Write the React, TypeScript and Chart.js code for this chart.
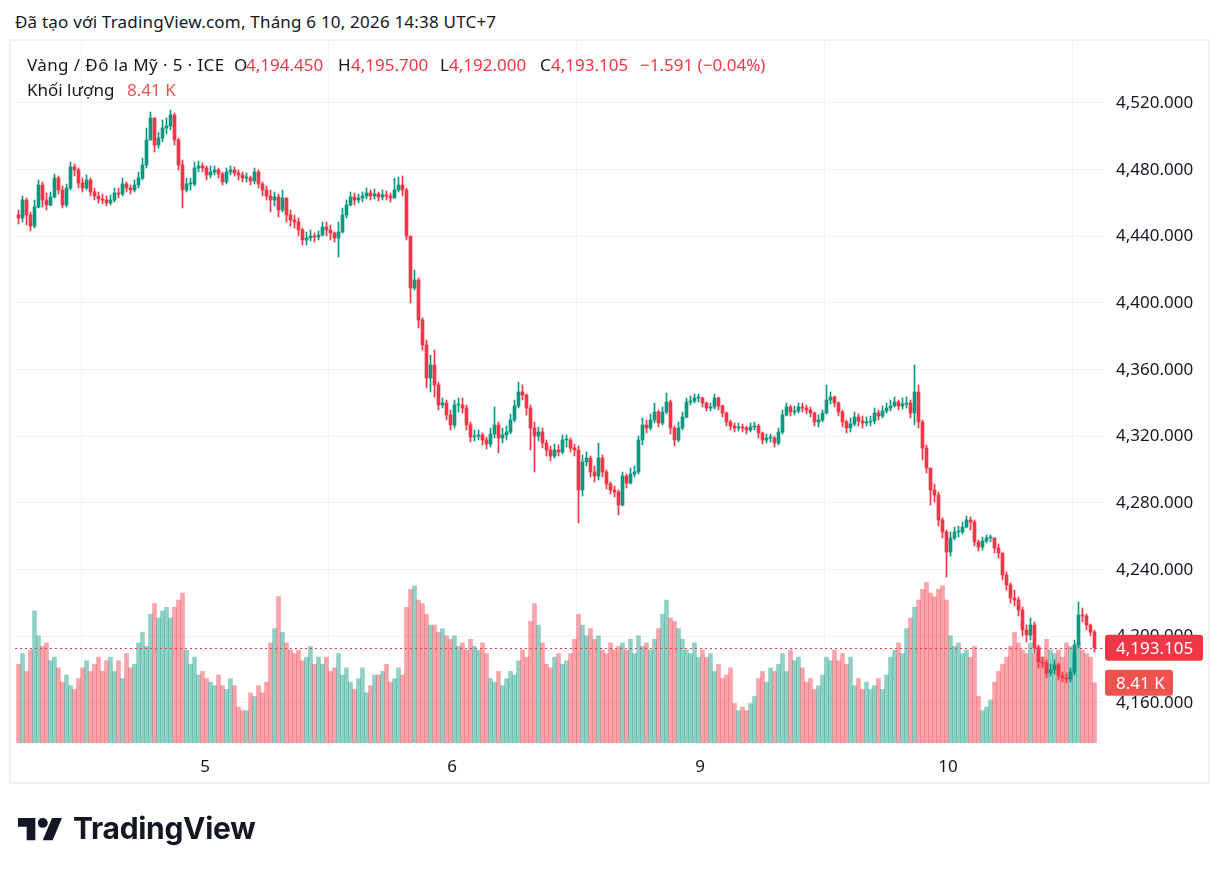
import React, { useEffect, useRef } from "react";
import { Chart, registerables } from "chart.js";

Chart.register(...registerables);

// ---------- data ----------
const titleText = "Đã tạo với TradingView.com, Tháng 6 10, 2026 14:38 UTC+7";
const symbolText = "Vàng / Đô la Mỹ · 5 · ICE";
const ohlcLetters = ["O", "H", "L", "C"];
const ohlcValues = [4194.45, 4195.7, 4192.0, 4193.105];
const changeValue = -1.591;
const changePct = -0.04;
const volumeTitle = "Khối lượng";

const firstOpen = 4453.0;

const closes = [
  4451.0, 4461.8, 4452.8, 4446.2, 4457.6, 4470.8, 4461.8, 4458.8, 4463.6, 4475.0,
  4467.8, 4458.8, 4469.0, 4481.6, 4479.8, 4472.0, 4469.0, 4473.8, 4466.6, 4464.2,
  4462.4, 4461.8, 4460.0, 4461.8, 4466.0, 4465.4, 4471.4, 4469.0, 4467.8, 4470.8,
  4475.0, 4482.8, 4497.8, 4511.0, 4494.8, 4499.0, 4505.0, 4506.2, 4512.8, 4497.8,
  4482.8, 4467.8, 4471.4, 4471.4, 4481.0, 4482.2, 4481.0, 4476.8, 4478.6, 4479.8,
  4477.4, 4472.6, 4478.6, 4479.8, 4478.0, 4476.8, 4475.0, 4475.0, 4473.2, 4478.6,
  4471.4, 4467.8, 4464.2, 4461.8, 4463.6, 4455.8, 4463.0, 4452.8, 4449.8, 4448.6,
  4443.8, 4437.8, 4439.0, 4440.2, 4439.6, 4440.8, 4445.6, 4443.8, 4442.0, 4439.0,
  4442.6, 4452.8, 4458.8, 4463.6, 4461.8, 4463.0, 4464.2, 4466.0, 4464.2, 4465.4,
  4463.6, 4464.8, 4464.2, 4463.0, 4467.8, 4470.8, 4467.8, 4440.2, 4409.0, 4413.8,
  4389.8, 4374.8, 4355.0, 4362.8, 4350.8, 4338.8, 4340.0, 4332.8, 4326.8, 4338.8,
  4338.8, 4337.0, 4326.8, 4319.6, 4320.2, 4320.8, 4317.8, 4315.4, 4321.4, 4326.8,
  4319.0, 4320.8, 4322.6, 4329.8, 4338.2, 4346.6, 4344.8, 4337.0, 4325.0, 4320.2,
  4322.6, 4316.0, 4311.8, 4308.2, 4311.8, 4310.6, 4317.8, 4317.8, 4313.0, 4311.8,
  4287.8, 4304.6, 4307.0, 4298.6, 4296.2, 4307.0, 4298.6, 4291.4, 4287.8, 4286.6,
  4278.8, 4296.2, 4292.0, 4297.4, 4298.6, 4317.8, 4326.8, 4325.0, 4329.8, 4334.6,
  4328.0, 4334.6, 4340.6, 4325.0, 4317.8, 4325.0, 4331.6, 4340.6, 4341.2, 4343.0,
  4343.0, 4340.0, 4337.0, 4337.6, 4343.0, 4338.2, 4334.0, 4328.6, 4326.2, 4325.0,
  4325.6, 4325.0, 4323.8, 4325.6, 4326.2, 4322.0, 4317.8, 4319.0, 4319.0, 4316.0,
  4322.6, 4332.8, 4337.6, 4334.6, 4335.2, 4337.6, 4337.0, 4335.8, 4334.0, 4328.6,
  4329.8, 4334.0, 4341.8, 4343.6, 4340.0, 4334.6, 4328.6, 4325.0, 4327.4, 4331.6,
  4329.2, 4328.0, 4328.6, 4329.2, 4334.0, 4332.2, 4335.2, 4337.0, 4338.2, 4340.6,
  4338.2, 4339.4, 4340.0, 4334.0, 4346.6, 4328.6, 4313.0, 4301.0, 4287.8, 4284.8,
  4269.8, 4262.6, 4250.6, 4259.0, 4262.6, 4262.6, 4265.6, 4269.8, 4268.6, 4256.6,
  4253.6, 4257.2, 4259.0, 4259.0, 4253.0, 4250.0, 4236.8, 4230.8, 4223.0, 4221.8,
  4215.8, 4203.8, 4200.8, 4206.8, 4193.0, 4184.6, 4184.0, 4178.0, 4179.8, 4182.8,
  4176.2, 4175.0, 4174.4, 4178.6, 4194.8, 4212.8, 4212.2, 4206.8, 4202.6, 4193.105,
];

const highs = [
  4455.8, 4464.2, 4463.0, 4454.6, 4461.8, 4473.8, 4472.6, 4466.0, 4466.6, 4477.4,
  4476.2, 4470.2, 4471.4, 4484.6, 4483.4, 4481.0, 4475.0, 4476.8, 4475.0, 4469.0,
  4466.6, 4465.4, 4464.2, 4464.8, 4469.0, 4469.0, 4475.0, 4472.6, 4470.8, 4473.8,
  4478.6, 4487.0, 4505.0, 4514.6, 4511.0, 4502.6, 4509.8, 4511.0, 4515.8, 4514.0,
  4499.0, 4485.8, 4475.0, 4475.0, 4484.6, 4485.2, 4484.0, 4482.2, 4482.2, 4482.2,
  4481.0, 4478.6, 4481.0, 4482.2, 4481.6, 4479.8, 4478.6, 4478.0, 4476.2, 4481.0,
  4479.8, 4472.6, 4470.2, 4467.8, 4466.6, 4465.4, 4467.8, 4463.0, 4455.8, 4452.8,
  4451.0, 4445.0, 4442.6, 4443.8, 4442.0, 4443.2, 4448.6, 4448.6, 4446.8, 4442.6,
  4448.6, 4457.0, 4461.8, 4466.6, 4466.0, 4465.4, 4466.6, 4469.0, 4467.8, 4468.4,
  4466.6, 4467.8, 4467.2, 4466.0, 4475.0, 4475.6, 4476.2, 4469.0, 4439.0, 4419.8,
  4415.0, 4391.0, 4377.8, 4368.8, 4371.8, 4352.6, 4343.0, 4341.8, 4335.8, 4341.8,
  4343.0, 4343.0, 4338.8, 4328.6, 4323.8, 4323.8, 4322.0, 4319.6, 4325.0, 4337.6,
  4328.6, 4325.0, 4326.2, 4333.4, 4341.8, 4352.6, 4350.8, 4345.4, 4338.8, 4328.6,
  4325.6, 4325.0, 4317.8, 4314.2, 4315.4, 4314.8, 4320.8, 4320.8, 4319.0, 4315.4,
  4314.2, 4308.8, 4310.6, 4308.2, 4302.2, 4316.0, 4308.8, 4299.8, 4292.6, 4290.2,
  4287.8, 4298.6, 4297.4, 4301.0, 4302.2, 4320.2, 4331.0, 4329.8, 4333.4, 4340.0,
  4335.8, 4337.6, 4346.0, 4341.8, 4326.2, 4328.6, 4334.6, 4343.0, 4344.2, 4345.4,
  4345.4, 4343.6, 4340.6, 4340.0, 4345.4, 4343.6, 4338.8, 4334.6, 4329.8, 4328.0,
  4328.0, 4327.4, 4326.2, 4328.0, 4328.6, 4327.4, 4322.6, 4321.4, 4321.4, 4320.2,
  4325.0, 4335.8, 4340.0, 4338.8, 4338.2, 4340.0, 4340.0, 4338.8, 4337.6, 4334.6,
  4332.8, 4335.8, 4350.8, 4346.6, 4344.2, 4340.6, 4335.8, 4329.8, 4331.0, 4334.6,
  4333.4, 4332.2, 4331.6, 4332.2, 4337.0, 4335.8, 4338.2, 4340.0, 4341.8, 4343.6,
  4341.8, 4343.0, 4343.6, 4341.8, 4362.8, 4350.8, 4329.8, 4314.8, 4299.8, 4291.4,
  4286.6, 4271.0, 4263.8, 4262.6, 4265.6, 4266.2, 4268.6, 4272.2, 4271.6, 4269.8,
  4257.8, 4259.6, 4260.8, 4260.8, 4259.0, 4255.4, 4250.0, 4238.6, 4232.0, 4227.8,
  4223.6, 4217.6, 4206.8, 4211.0, 4208.6, 4194.8, 4187.6, 4185.8, 4183.4, 4185.8,
  4184.0, 4178.6, 4178.0, 4181.0, 4197.8, 4220.6, 4217.0, 4213.4, 4207.4, 4203.8,
];

const lows = [
  4447.4, 4448.6, 4446.8, 4443.2, 4445.0, 4457.0, 4457.6, 4455.8, 4458.2, 4463.0,
  4465.4, 4457.0, 4457.6, 4467.8, 4476.2, 4469.0, 4466.6, 4467.8, 4464.2, 4461.8,
  4460.0, 4459.4, 4458.2, 4458.8, 4460.6, 4463.0, 4464.2, 4466.6, 4465.4, 4466.6,
  4469.0, 4473.8, 4481.0, 4497.8, 4490.6, 4493.0, 4496.6, 4501.4, 4503.8, 4494.8,
  4479.8, 4457.0, 4466.6, 4467.8, 4470.2, 4478.6, 4478.6, 4473.8, 4475.0, 4476.8,
  4475.0, 4470.8, 4471.4, 4476.8, 4476.2, 4473.8, 4472.6, 4472.6, 4470.8, 4471.4,
  4469.0, 4464.2, 4461.8, 4454.6, 4458.2, 4451.6, 4454.6, 4448.6, 4446.2, 4445.0,
  4440.2, 4434.8, 4434.8, 4437.2, 4436.6, 4437.8, 4440.2, 4440.2, 4437.8, 4436.6,
  4427.6, 4442.0, 4451.0, 4458.2, 4458.8, 4460.0, 4460.6, 4462.4, 4461.8, 4462.4,
  4461.2, 4461.8, 4461.8, 4460.6, 4463.0, 4466.6, 4464.2, 4437.8, 4400.0, 4407.8,
  4385.0, 4371.8, 4349.0, 4346.6, 4343.6, 4335.8, 4337.0, 4329.8, 4323.8, 4325.0,
  4334.6, 4334.0, 4323.8, 4316.6, 4317.2, 4317.8, 4314.8, 4312.4, 4313.6, 4319.0,
  4310.0, 4316.0, 4317.8, 4321.4, 4328.6, 4337.0, 4341.8, 4332.8, 4311.8, 4298.6,
  4317.2, 4313.0, 4308.2, 4305.2, 4307.0, 4308.2, 4309.4, 4313.6, 4310.6, 4308.2,
  4268.0, 4284.2, 4302.2, 4295.6, 4292.6, 4293.8, 4295.6, 4288.4, 4285.4, 4283.6,
  4272.8, 4278.2, 4289.0, 4291.4, 4295.6, 4297.4, 4314.8, 4322.0, 4323.8, 4328.0,
  4325.6, 4326.8, 4333.4, 4321.4, 4314.2, 4316.6, 4323.8, 4331.0, 4338.8, 4340.0,
  4340.6, 4337.6, 4335.2, 4335.2, 4336.4, 4335.8, 4331.6, 4326.2, 4323.8, 4322.6,
  4323.2, 4322.6, 4321.4, 4322.6, 4323.8, 4319.0, 4315.4, 4316.0, 4316.6, 4313.6,
  4314.8, 4321.4, 4332.2, 4332.2, 4332.8, 4334.0, 4334.6, 4333.4, 4331.6, 4326.2,
  4325.6, 4328.6, 4333.4, 4339.4, 4337.6, 4332.2, 4325.6, 4322.0, 4322.6, 4326.2,
  4326.2, 4325.0, 4326.2, 4326.2, 4327.4, 4329.8, 4331.0, 4334.0, 4335.2, 4337.6,
  4335.8, 4336.4, 4337.0, 4331.0, 4326.8, 4325.0, 4305.8, 4298.0, 4278.8, 4280.6,
  4266.2, 4259.0, 4235.6, 4248.2, 4257.8, 4259.6, 4261.4, 4265.0, 4263.8, 4254.2,
  4251.2, 4251.8, 4256.0, 4256.6, 4250.0, 4247.0, 4233.8, 4227.8, 4220.0, 4218.2,
  4212.2, 4200.2, 4196.6, 4197.8, 4190.0, 4181.0, 4181.0, 4175.0, 4176.2, 4177.4,
  4173.8, 4172.6, 4172.0, 4172.6, 4176.8, 4193.0, 4208.6, 4203.8, 4200.2, 4190.6,
];

// volume in thousands
const volumes = [
  11, 12.5, 10, 13, 18.5, 15, 13.5, 14, 11.5, 12,
  10.5, 8.5, 9.5, 8, 7.5, 9, 10.5, 11.5, 10, 11,
  12, 10, 11.5, 12, 10, 11.5, 9, 12.5, 10.5, 11,
  14, 15.5, 13.5, 18, 19.5, 17.5, 18.5, 19, 17.5, 19,
  20, 21, 13, 11, 12, 9.5, 10, 9, 8.5, 8,
  9.5, 8, 7.5, 9, 8, 5, 4.5, 4.5, 7, 6.5,
  8, 7, 8.5, 14, 16, 20.5, 15.5, 14, 13, 12.5,
  13, 11.5, 12, 13.5, 11, 12, 11, 12, 10, 10.5,
  12.5, 9.5, 10.5, 8.5, 7.5, 9, 10.5, 7, 8, 9.5,
  9.5, 10, 11, 8.5, 9, 10.5, 9.5, 19, 21.5, 22,
  20, 19.5, 18, 16.5, 16.5, 15.5, 16, 15, 14.5, 15,
  13.5, 14, 13, 14.5, 13.5, 13, 14, 12.5, 9, 8.5,
  10, 8, 9, 10, 9.5, 11.5, 13, 12, 17, 19.5,
  16.5, 14, 11, 10.5, 12, 12.5, 11, 11.5, 12.5, 14.5,
  18, 16.5, 15, 16, 14.5, 15, 13, 12.5, 14, 13,
  13.5, 14, 13, 14.5, 12.5, 15, 13.5, 14, 13, 14.5,
  16, 18, 20, 17.5, 17, 16, 14.5, 13, 12.5, 14,
  12, 13, 12, 12.5, 10, 11, 9, 9.5, 10.5, 5.5,
  4.5, 5, 4.5, 5.5, 6.5, 9, 10, 8.5, 10.5, 10,
  11, 12.5, 10, 13, 11.5, 12, 10.5, 8.5, 9, 7.5,
  8, 9.5, 12, 11.5, 13, 11.5, 12.5, 11, 12, 8,
  9, 7.5, 8.5, 7.5, 8, 9, 7.5, 9.5, 12, 13,
  14, 12.5, 16, 17.5, 19, 20, 21.5, 22.5, 21, 20.5,
  21.5, 22, 20, 15, 13.5, 14, 12.5, 13, 12, 13.5,
  6.5, 4.5, 5, 6, 8.5, 10, 11, 12, 13.5, 15.5,
  14, 13, 12.5, 14, 12.5, 13.5, 12, 14.5, 13, 12.5,
  13, 12, 14, 13.5, 12.5, 14, 13, 12.5, 12, 8.41,
];

const priceTicks = [4160, 4200, 4240, 4280, 4320, 4360, 4400, 4440, 4480, 4520];
const dayTickPositions = [46.625, 108.375, 170.375, 232.375];
const dayLabels = ["5", "6", "9", "10"];

// ---------- styles ----------
const UP = "#089981";
const DOWN = "#f23645";
const UP_VOL = "rgba(8,153,129,0.45)";
const DOWN_VOL = "rgba(242,54,69,0.45)";
const VOL_TAG = "#ef5350";
const TEXT = "#131722";
const GRID = "#f0f3fa";
const FONT = "'Noto Sans', sans-serif";

const fmt3 = (v: number) =>
  v.toLocaleString("en-US", { minimumFractionDigits: 3, maximumFractionDigits: 3 });

function roundRect(ctx: CanvasRenderingContext2D, x: number, y: number, w: number, h: number, r: number) {
  ctx.beginPath();
  ctx.moveTo(x + r, y);
  ctx.lineTo(x + w - r, y);
  ctx.quadraticCurveTo(x + w, y, x + w, y + r);
  ctx.lineTo(x + w, y + h - r);
  ctx.quadraticCurveTo(x + w, y + h, x + w - r, y + h);
  ctx.lineTo(x + r, y + h);
  ctx.quadraticCurveTo(x, y + h, x, y + h - r);
  ctx.lineTo(x, y + r);
  ctx.quadraticCurveTo(x, y, x + r, y);
  ctx.closePath();
}

export default function App() {
  const canvasRef = useRef<HTMLCanvasElement | null>(null);

  useEffect(() => {
    const canvas = canvasRef.current;
    if (!canvas) return;
    const n = closes.length;
    const opens = closes.map((c, i) => (i === 0 ? firstOpen : closes[i - 1]));
    const isUp = closes.map((c, i) => c >= opens[i]);
    const lastPrice = closes[n - 1];
    const lastVol = volumes[n - 1];

    const tagsPlugin = {
      id: "tags",
      afterDatasetsDraw(chart: any) {
        const { ctx, chartArea, scales } = chart;
        const y = Math.round(scales.y.getPixelForValue(lastPrice)) + 0.5;
        ctx.save();
        ctx.strokeStyle = DOWN;
        ctx.lineWidth = 1;
        ctx.setLineDash([2, 3]);
        ctx.beginPath();
        ctx.moveTo(chartArea.left, y);
        ctx.lineTo(chartArea.right, y);
        ctx.stroke();
        ctx.restore();
      },
      afterDraw(chart: any) {
        const { ctx, chartArea, scales } = chart;
        const y = scales.y.getPixelForValue(lastPrice);
        const vy = scales.yv.getPixelForValue(lastVol);
        const x0 = chartArea.right + 1;
        ctx.save();
        ctx.fillStyle = DOWN;
        roundRect(ctx, x0, y - 13, 98, 26, 3);
        ctx.fill();
        ctx.fillStyle = VOL_TAG;
        roundRect(ctx, x0, vy - 13, 68, 26, 3);
        ctx.fill();
        ctx.fillStyle = "#ffffff";
        ctx.font = `17px ${FONT}`;
        ctx.textBaseline = "middle";
        ctx.textAlign = "left";
        ctx.fillText(fmt3(lastPrice), x0 + 11, y + 1);
        ctx.fillText(`${lastVol.toFixed(2)} K`, x0 + 11, vy + 1);
        ctx.restore();
      },
    };

    const chart = new Chart(canvas, {
      type: "bar",
      data: {
        datasets: [
          {
            label: "body",
            data: closes.map((c, i) => ({ x: i, y: [opens[i], c] })) as any,
            backgroundColor: isUp.map((u) => (u ? UP : DOWN)),
            barThickness: 3,
            minBarLength: 1,
            grouped: false,
            order: 1,
            yAxisID: "y",
          } as any,
          {
            label: "wick",
            data: closes.map((c, i) => ({ x: i, y: [lows[i], highs[i]] })) as any,
            backgroundColor: isUp.map((u) => (u ? UP : DOWN)),
            barThickness: 1,
            grouped: false,
            order: 2,
            yAxisID: "y",
          } as any,
          {
            label: "volume",
            data: volumes.map((v, i) => ({ x: i, y: v })) as any,
            backgroundColor: isUp.map((u) => (u ? UP_VOL : DOWN_VOL)),
            barThickness: 4,
            grouped: false,
            order: 3,
            yAxisID: "yv",
          } as any,
        ],
      },
      options: {
        responsive: false,
        maintainAspectRatio: false,
        animation: false,
        devicePixelRatio: 1,
        layout: { padding: { left: 15, top: 41, right: 15, bottom: 91 } },
        plugins: { legend: { display: false }, tooltip: { enabled: false } },
        scales: {
          x: {
            type: "linear",
            min: -0.875,
            max: 271.375,
            offset: false,
            grid: { color: GRID, drawTicks: false, lineWidth: 1 },
            border: { display: false },
            ticks: {
              autoSkip: false,
              maxRotation: 0,
              padding: 9,
              color: TEXT,
              font: { family: FONT, size: 17 },
              callback: (v: any) => {
                const k = dayTickPositions.indexOf(Number(v));
                return k >= 0 ? dayLabels[k] : "";
              },
            },
            afterBuildTicks: (s: any) => {
              s.ticks = dayTickPositions.map((v) => ({ value: v }));
            },
            afterFit: (s: any) => {
              s.height = 36;
            },
          },
          y: {
            type: "linear",
            position: "right",
            min: 4133.0,
            max: 4557.2,
            grid: { color: GRID, drawTicks: false },
            border: { display: false },
            ticks: {
              padding: 12,
              color: TEXT,
              font: { family: FONT, size: 17 },
              callback: (v: any) => fmt3(Number(v)),
            },
            afterBuildTicks: (s: any) => {
              s.ticks = priceTicks.map((v) => ({ value: v }));
            },
            afterFit: (s: any) => {
              s.width = 105;
            },
          },
          yv: {
            type: "linear",
            display: false,
            min: -0.74,
            max: 98.4,
          },
        },
      } as any,
      plugins: [tagsPlugin],
    });
    return () => chart.destroy();
  }, []);

  const abs = (left: number, top: number, extra: any = {}) => ({
    position: "absolute" as const,
    left,
    top,
    whiteSpace: "nowrap" as const,
    ...extra,
  });
  const legendFont = { fontFamily: FONT, fontSize: 17, lineHeight: "24px", color: TEXT };
  const ohlcLeft = [234, 338, 440, 540];
  const ohlcValueLeft = [246, 351, 449, 551];

  return (
    <div
      style={{
        position: "absolute",
        left: 0,
        top: 0,
        width: 1224,
        height: 875,
        background: "#ffffff",
        overflow: "hidden",
      }}
    >
      <div
        style={abs(15, 10, {
          fontFamily: FONT,
          fontSize: 17,
          lineHeight: "24px",
          color: TEXT,
          letterSpacing: 0.2,
        })}
      >
        {titleText}
      </div>
      <div
        style={{
          position: "absolute",
          left: 9,
          top: 39,
          width: 1197,
          height: 741,
          border: "2px solid #eff1f4",
        }}
      />
      <canvas
        ref={canvasRef}
        width={1224}
        height={875}
        style={{ position: "absolute", left: 0, top: 0, width: 1224, height: 875 }}
      />
      <div style={abs(27, 53, { ...legendFont, letterSpacing: 0.4 })}>{symbolText}</div>
      {ohlcLetters.map((l, i) => (
        <React.Fragment key={l}>
          <div style={abs(ohlcLeft[i], 53, legendFont)}>{l}</div>
          <div style={abs(ohlcValueLeft[i], 53, { ...legendFont, color: DOWN })}>
            {fmt3(ohlcValues[i])}
          </div>
        </React.Fragment>
      ))}
      <div style={abs(640, 53, { ...legendFont, color: DOWN })}>
        {`${changeValue < 0 ? "−" : "+"}${Math.abs(changeValue).toFixed(3)} (${changePct < 0 ? "−" : "+"}${Math.abs(changePct).toFixed(2)}%)`}
      </div>
      <div style={abs(27, 78, legendFont)}>{volumeTitle}</div>
      <div style={abs(127, 78, { ...legendFont, color: VOL_TAG })}>
        {`${volumes[volumes.length - 1].toFixed(2)} K`}
      </div>
      <svg
        style={{ position: "absolute", left: 18, top: 813 }}
        width={44.6}
        height={34.7}
        viewBox="0 0 36 28"
      >
        <path d="M14 22H7V11H0V4h14v18zM28 22h-8l7.5-18h8L28 22z" fill="#131722" />
        <circle cx="20" cy="8" r="4" fill="#131722" />
      </svg>
      <div
        style={abs(73, 812, {
          fontFamily: "Inter, sans-serif",
          fontWeight: 700,
          fontSize: 30,
          lineHeight: "32px",
          color: "#131722",
          letterSpacing: -0.3,
        })}
      >
        TradingView
      </div>
    </div>
  );
}
